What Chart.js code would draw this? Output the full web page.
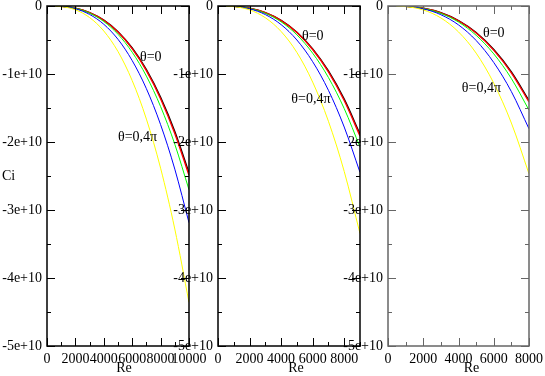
<!DOCTYPE html>
<html>
<head>
<meta charset="utf-8">
<style>
  html, body { margin: 0; padding: 0; background: #fff; }
  #wrap { position: relative; width: 545px; height: 376px; }
  #wrap canvas { position: absolute; left: 0; top: 0; }
</style>
</head>
<body>
<div id="wrap">
  <canvas id="c1" width="545" height="376"></canvas>
  <canvas id="c2" width="545" height="376"></canvas>
  <canvas id="c3" width="545" height="376"></canvas>
</div>

<script src="https://cdn.jsdelivr.net/npm/chart.js"></script>
<script>
// Ci in units of 1e10, Re every 1000
const reA = [0, 1000, 2000, 3000, 4000, 5000, 6000, 7000, 8000, 9000, 10000];
const blackA  = [0, -0.005, -0.032, -0.096, -0.207, -0.377, -0.618, -0.936, -1.343, -1.846, -2.453];
const redA    = [0, -0.005, -0.032, -0.097, -0.210, -0.383, -0.627, -0.950, -1.363, -1.874, -2.490];
const greenA  = [0, -0.005, -0.035, -0.105, -0.228, -0.416, -0.680, -1.031, -1.479, -2.033, -2.702];
const blueA   = [0, -0.006, -0.041, -0.124, -0.269, -0.490, -0.803, -1.216, -1.745, -2.399, -3.187];
const yellowA = [0, -0.009, -0.056, -0.170, -0.368, -0.670, -1.097, -1.663, -2.385, -3.280, -4.358];

const reB = [0, 1000, 2000, 3000, 4000, 5000, 6000, 7000, 8000, 9000];
const blackB  = [0, -0.005, -0.032, -0.098, -0.211, -0.385, -0.630, -0.955, -1.370, -1.883];
const redB    = [0, -0.005, -0.033, -0.099, -0.214, -0.391, -0.640, -0.969, -1.390, -1.911];
const greenB  = [0, -0.005, -0.036, -0.107, -0.233, -0.424, -0.694, -1.052, -1.509, -2.074];
const blueB   = [0, -0.006, -0.042, -0.126, -0.274, -0.500, -0.819, -1.240, -1.780, -2.447];
const yellowB = [0, -0.009, -0.057, -0.173, -0.375, -0.683, -1.119, -1.696, -2.433, -3.346];

const reC = [0, 1000, 2000, 3000, 4000, 5000, 6000, 7000, 8000];
const blackC  = [0, -0.005, -0.033, -0.099, -0.214, -0.390, -0.640, -0.969, -1.390];
const redC    = [0, -0.005, -0.033, -0.100, -0.217, -0.396, -0.649, -0.983, -1.411];
const greenC  = [0, -0.005, -0.036, -0.109, -0.236, -0.431, -0.704, -1.067, -1.531];
const blueC   = [0, -0.006, -0.042, -0.128, -0.278, -0.507, -0.831, -1.259, -1.806];
const yellowC = [0, -0.009, -0.058, -0.176, -0.381, -0.693, -1.135, -1.721, -2.468];

// tick labels
const xTicksA = [0, 2000, 4000, 6000, 8000, 10000];
const xTicksB = [0, 2000, 4000, 6000, 8000];
const xTicksC = [0, 2000, 4000, 6000, 8000];
const yTicks = [-5, -4, -3, -2, -1, 0];

// annotation anchors [text, Re, Ci]
const labelsA = [['θ=0', 6550, -0.75], ['θ=0,4π', 5000, -1.93]];
const labelsB = [['θ=0', 5320, -0.45], ['θ=0,4π', 4650, -1.37]];
const labelsC = [['θ=0', 5390, -0.40], ['θ=0,4π', 4190, -1.21]];

const FONT = "'Liberation Serif', 'DejaVu Serif', serif";
const FSIZE = 14;

const frameTicks = {
  id: 'frameTicks',
  afterDatasetsDraw(chart, args, opts) {
    const { ctx, chartArea: a, scales: { x, y } } = chart;
    const line = (x1, y1, x2, y2) => { ctx.beginPath(); ctx.moveTo(x1, y1); ctx.lineTo(x2, y2); ctx.stroke(); };
    ctx.save();
    ctx.strokeStyle = opts.color;
    ctx.lineWidth = 1;
    // minor/major tick marks inside the frame
    for (let v = 0; v <= x.max; v += 1000) {
      const px = Math.round(x.getPixelForValue(v)) + 0.5;
      const len = v % 2000 === 0 ? 8 : 4;
      line(px, a.bottom, px, a.bottom - len);
      line(px, a.top, px, a.top + len);
    }
    for (let v = -5; v <= 0; v += 0.5) {
      const py = Math.round(y.getPixelForValue(v)) + 0.5;
      const len = Number.isInteger(v) ? 8 : 4;
      line(a.left, py, a.left + len, py);
      line(a.right, py, a.right - len, py);
    }
    ctx.lineWidth = 1.5;
    ctx.strokeRect(a.left, a.top, a.right - a.left, a.bottom - a.top);

    ctx.fillStyle = '#000';
    ctx.font = FSIZE + 'px ' + FONT;
    ctx.textBaseline = 'middle';
    ctx.textAlign = 'left';
    opts.labels.forEach(([t, re, ci]) => {
      ctx.fillText(t, x.getPixelForValue(re), y.getPixelForValue(ci));
    });
    if (opts.yTitle) {
      ctx.fillText(opts.yTitle, 2, (a.top + a.bottom) / 2);
    }
    // x axis title
    ctx.textAlign = 'center';
    ctx.fillText('Re', (a.left + a.right) / 2 + opts.titleShift, a.bottom + 22);
    ctx.restore();
  }
};

function makePanel(id, re, series, xmax, xTicks, padL, padR, frameColor, labels, yTitle, titleShift) {
  const colors = ['#ffff00', '#0000ff', '#00ff00', '#ff0000', '#000000'];
  const widths = [1, 1, 1, 1.4, 1.4];
  new Chart(document.getElementById(id), {
    type: 'line',
    data: {
      datasets: series.map((s, i) => ({
        data: s.map((v, k) => ({ x: re[k], y: v })),
        borderColor: colors[i],
        borderWidth: widths[i],
        pointRadius: 0,
        fill: false,
        cubicInterpolationMode: 'monotone'
      }))
    },
    options: {
      responsive: false,
      animation: false,
      events: [],
      layout: { padding: { left: padL, right: padR, top: 6, bottom: 0 } },
      plugins: {
        legend: { display: false },
        tooltip: { enabled: false },
        frameTicks: { color: frameColor, labels: labels, yTitle: yTitle, titleShift: titleShift }
      },
      scales: {
        x: {
          type: 'linear', min: 0, max: xmax,
          grid: { display: false, drawTicks: false },
          border: { display: false },
          ticks: {
            maxRotation: 0, autoSkip: false,
            padding: 5, color: '#000', font: { family: FONT, size: FSIZE },
            callback: v => String(v)
          },
          afterBuildTicks: s => { s.ticks = xTicks.map(v => ({ value: v })); },
          afterFit: s => { s.height = 30; s.paddingLeft = 0; s.paddingRight = 0; }
        },
        y: {
          type: 'linear', min: -5, max: 0,
          grid: { display: false, drawTicks: false },
          border: { display: false },
          ticks: {
            padding: 5, color: '#000', font: { family: FONT, size: FSIZE },
            callback: v => v === 0 ? '0' : v + 'e+10'
          },
          afterBuildTicks: s => { s.ticks = yTicks.map(v => ({ value: v })); },
          afterFit: s => { s.width = 47; s.paddingTop = 0; s.paddingBottom = 0; }
        }
      }
    },
    plugins: [frameTicks]
  });
}

makePanel('c1', reA, [yellowA, blueA, greenA, redA, blackA], 10000, xTicksA, 0, 356, '#000', labelsA, 'Ci', 6);
makePanel('c2', reB, [yellowB, blueB, greenB, redB, blackB], 9000, xTicksB, 171, 185, '#000', labelsB, null, 7);
makePanel('c3', reC, [yellowC, blueC, greenC, redC, blackC], 8000, xTicksC, 341, 16, '#666', labelsC, null, 13);
</script>
</body>
</html>
